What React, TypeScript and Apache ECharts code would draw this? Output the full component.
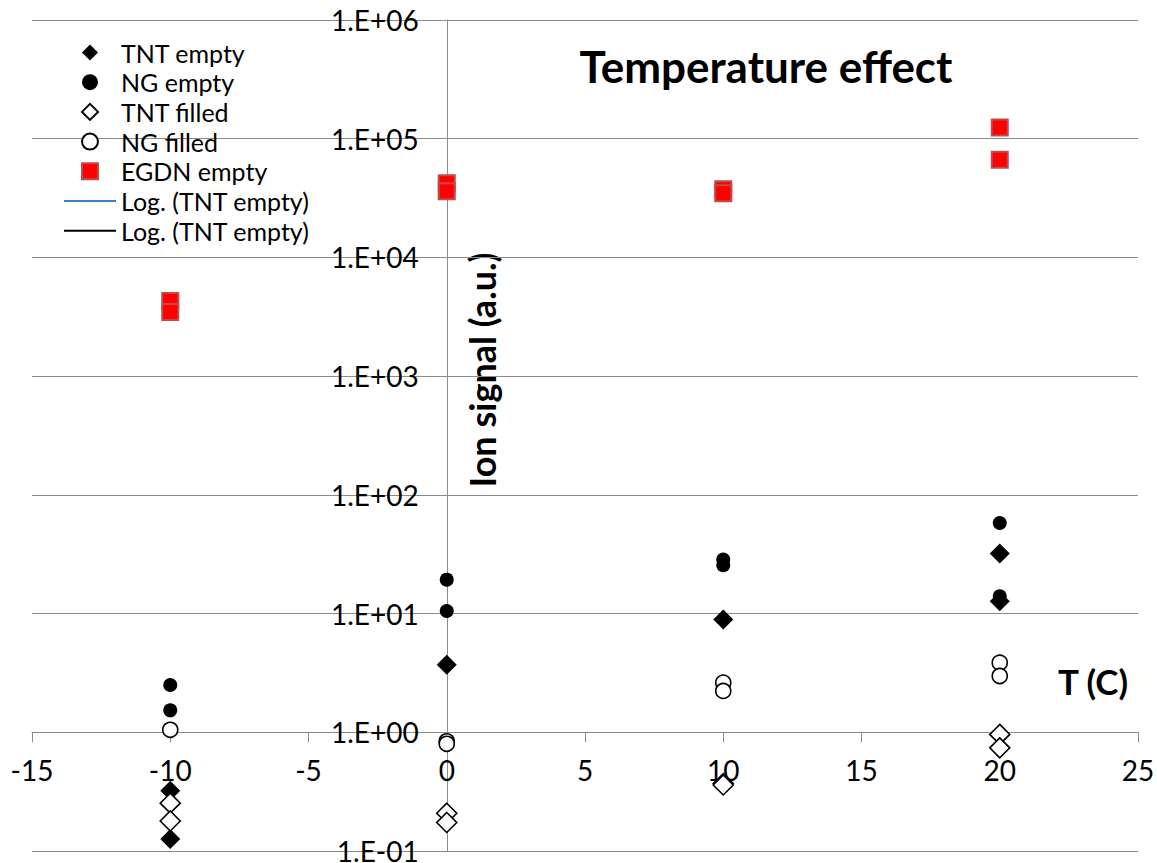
import React, { useEffect, useRef } from "react";
import * as echarts from "echarts";

// Measured ion signal (a.u.) versus temperature T (C): [T, signal]
const tntEmpty: [number, number][] = [
  [-10, 0.321], [-10, 0.126], [0, 3.7], [10, 8.9], [20, 32], [20, 12.7],
];
const ngEmpty: [number, number][] = [
  [-10, 2.5], [-10, 1.53], [0, 19.3], [0, 10.5], [10, 28.5], [10, 25.5], [20, 58], [20, 14],
];
const tntFilled: [number, number][] = [
  [-10, 0.253], [-10, 0.179], [0, 0.208], [0, 0.174], [10, 0.37], [10, 0.36], [20, 0.96], [20, 0.74],
];
const ngFilled: [number, number][] = [
  [-10, 1.05], [0, 0.84], [0, 0.8], [10, 2.62], [10, 2.23], [20, 3.86], [20, 2.98],
];
const egdnEmpty: [number, number][] = [
  [-10, 4290], [-10, 3465], [0, 42250], [0, 36150], [10, 37600], [10, 34800], [20, 124500], [20, 66500],
];

// Logarithmic trendlines listed in the legend (no fitted points drawn)
const trendBlue: [number, number][] = [];
const trendBlack: [number, number][] = [];

const seriesNames = ["TNT empty", "NG empty", "TNT filled", "NG filled", "EGDN empty", "trendBlue", "trendBlack"];
const legendLabels: Record<string, string> = {
  trendBlue: "Log. (TNT empty)",
  trendBlack: "Log. (TNT empty)",
};

const xMin = -15;
const xMax = 25;
const xStep = 5;
const yMin = 0.1;
const yMax = 1e6;
const yCross = 1; // temperature axis crosses here
const xCross = 0; // signal axis crosses here
const yTickLabels = ["1.E-01", "1.E+00", "1.E+01", "1.E+02", "1.E+03", "1.E+04", "1.E+05", "1.E+06"];

const FONT = 'Lato, "Open Sans", "DejaVu Sans", sans-serif';
const GRID_GRAY = "#8c8c8c";

// legend marker outlines (path icons keep their aspect ratio)
const ICON_DIAMOND = "path://M0,-1L1,0L0,1L-1,0Z";
const ICON_CIRCLE = "path://M-1,0A1,1,0,1,0,1,0A1,1,0,1,0,-1,0Z";
const ICON_SQUARE = "path://M0,0L1,0L1,1L0,1Z";

export default function App() {
  const ref = useRef<HTMLDivElement>(null);

  useEffect(() => {
    if (!ref.current) return;
    const chart = echarts.init(ref.current, undefined, { renderer: "svg" });

    const left = 32;
    const top = 20;
    const width = 1106;
    const height = 831;
    const decades = Math.log10(yMax) - Math.log10(yMin);
    // grid holding the temperature axis ends at the crossing value
    const crossHeight = (height * (Math.log10(yMax) - Math.log10(yCross))) / decades;
    // grid holding the signal axis starts at the crossing temperature
    const crossLeft = left + (width * (xCross - xMin)) / (xMax - xMin);

    const yLabelFormatter = (v: number) => {
      const e = Math.round(Math.log10(v));
      return yTickLabels[e + 1] ?? "";
    };

    const option: any = {
      animation: false,
      textStyle: { fontFamily: FONT },
      grid: [
        { left, top, width, height, containLabel: false, outerBoundsMode: "none" },
        { left, top, width, height: crossHeight, containLabel: false, outerBoundsMode: "none" },
        { left: crossLeft, top, width: left + width - crossLeft, height, containLabel: false, outerBoundsMode: "none" },
      ],
      xAxis: [
        {
          gridIndex: 0,
          type: "value",
          min: xMin,
          max: xMax,
          interval: xStep,
          show: false,
          axisLine: { onZero: false },
          splitLine: { show: false },
        },
        {
          gridIndex: 1,
          type: "value",
          min: xMin,
          max: xMax,
          interval: xStep,
          position: "bottom",
          axisLine: { show: true, onZero: false, lineStyle: { color: GRID_GRAY, width: 1 } },
          axisTick: { show: true, length: 10, lineStyle: { color: GRID_GRAY, width: 1 } },
          axisLabel: {
            show: true,
            color: "#000",
            fontSize: 28,
            fontFamily: FONT,
            margin: 24,
            showMinLabel: true,
            showMaxLabel: true,
            hideOverlap: false,
          },
          splitLine: { show: false },
        },
        {
          gridIndex: 2,
          type: "value",
          min: 0,
          max: 1,
          show: false,
        },
      ],
      yAxis: [
        {
          // gridlines across the whole plot
          gridIndex: 0,
          type: "log",
          logBase: 10,
          min: yMin,
          max: yMax,
          splitNumber: 7,
          axisLine: { show: false },
          axisTick: { show: false },
          axisLabel: { show: false },
          minorTick: { show: false },
          splitLine: { show: true, lineStyle: { color: GRID_GRAY, width: 1 } },
        },
        {
          gridIndex: 1,
          type: "value",
          min: 0,
          max: 1,
          show: false,
        },
        {
          // the signal axis itself, drawn at T = 0
          gridIndex: 2,
          type: "log",
          logBase: 10,
          min: yMin,
          max: yMax,
          splitNumber: 7,
          position: "left",
          axisLine: { show: true, onZero: false, lineStyle: { color: GRID_GRAY, width: 1 } },
          axisTick: { show: true, length: 10, lineStyle: { color: GRID_GRAY, width: 1 } },
          minorTick: { show: false },
          splitLine: { show: false },
          axisLabel: {
            color: "#000",
            fontSize: 28,
            lineHeight: 22,
            fontFamily: FONT,
            margin: 28,
            showMinLabel: true,
            showMaxLabel: true,
            hideOverlap: false,
            formatter: yLabelFormatter,
          },
        },
      ],
      legend: {
        orient: "vertical",
        left: 63,
        top: 40,
        padding: 0,
        itemWidth: 52,
        itemHeight: 16,
        itemGap: 4.7,
        selectedMode: false,
        symbolKeepAspect: true,
        textStyle: { color: "#000", fontSize: 25, lineHeight: 25, fontFamily: FONT },
        formatter: (name: string) => legendLabels[name] ?? name,
        data: [
          { name: seriesNames[0], icon: ICON_DIAMOND },
          { name: seriesNames[1], icon: ICON_CIRCLE },
          { name: seriesNames[2], icon: ICON_DIAMOND },
          { name: seriesNames[3], icon: ICON_CIRCLE },
          { name: seriesNames[4], icon: ICON_SQUARE },
          { name: seriesNames[5], itemStyle: { opacity: 0 } },
          { name: seriesNames[6], itemStyle: { opacity: 0 } },
        ],
      },
      series: [
        {
          name: seriesNames[0],
          type: "scatter",
          xAxisIndex: 0,
          yAxisIndex: 0,
          symbol: "diamond",
          symbolSize: 20,
          itemStyle: { color: "#000", opacity: 1 },
          emphasis: { disabled: true },
          data: tntEmpty,
        },
        {
          name: seriesNames[1],
          type: "scatter",
          xAxisIndex: 0,
          yAxisIndex: 0,
          symbol: "circle",
          symbolSize: 14,
          itemStyle: { color: "#000", opacity: 1 },
          emphasis: { disabled: true },
          data: ngEmpty,
        },
        {
          name: seriesNames[2],
          type: "scatter",
          xAxisIndex: 0,
          yAxisIndex: 0,
          symbol: "diamond",
          symbolSize: 20,
          itemStyle: { color: "#fff", borderColor: "#000", borderWidth: 1.6, opacity: 1 },
          emphasis: { disabled: true },
          data: tntFilled,
        },
        {
          name: seriesNames[3],
          type: "scatter",
          xAxisIndex: 0,
          yAxisIndex: 0,
          symbol: "circle",
          symbolSize: 15,
          itemStyle: { color: "#fff", borderColor: "#000", borderWidth: 1.6, opacity: 1 },
          emphasis: { disabled: true },
          data: ngFilled,
        },
        {
          name: seriesNames[4],
          type: "scatter",
          xAxisIndex: 0,
          yAxisIndex: 0,
          symbol: "rect",
          symbolSize: 16,
          itemStyle: { color: "#ff0000", borderColor: "#c24a47", borderWidth: 2, opacity: 1 },
          emphasis: { disabled: true },
          data: egdnEmpty,
        },
        {
          name: seriesNames[5],
          type: "line",
          xAxisIndex: 0,
          yAxisIndex: 0,
          symbol: "none",
          lineStyle: { color: "#3f7fc6", width: 1.6 },
          itemStyle: { color: "#3f7fc6", opacity: 0 },
          data: trendBlue,
        },
        {
          name: seriesNames[6],
          type: "line",
          xAxisIndex: 0,
          yAxisIndex: 0,
          symbol: "none",
          lineStyle: { color: "#000", width: 1.6 },
          itemStyle: { color: "#000", opacity: 0 },
          data: trendBlack,
        },
      ],
      graphic: [
        {
          type: "text",
          x: 766,
          y: 66,
          style: {
            text: "Temperature effect",
            fontFamily: FONT,
            fontWeight: "bold",
            fontSize: 44,
            fill: "#000",
            align: "center",
            verticalAlign: "middle",
          },
        },
        {
          type: "text",
          x: 482,
          y: 370,
          rotation: Math.PI / 2,
          style: {
            text: "Ion signal (a.u.)",
            fontFamily: FONT,
            fontWeight: "bold",
            fontSize: 36,
            fill: "#000",
            align: "center",
            verticalAlign: "middle",
          },
        },
        {
          type: "text",
          x: 1058,
          y: 681,
          style: {
            text: "T (C)",
            fontFamily: FONT,
            fontWeight: "bold",
            fontSize: 35,
            fill: "#000",
            align: "left",
            verticalAlign: "middle",
          },
        },
      ],
    };

    chart.setOption(option);
    return () => chart.dispose();
  }, []);

  return (
    <div
      ref={ref}
      style={{ position: "absolute", left: 0, top: 0, width: 1157, height: 863, background: "#fff" }}
    />
  );
}
